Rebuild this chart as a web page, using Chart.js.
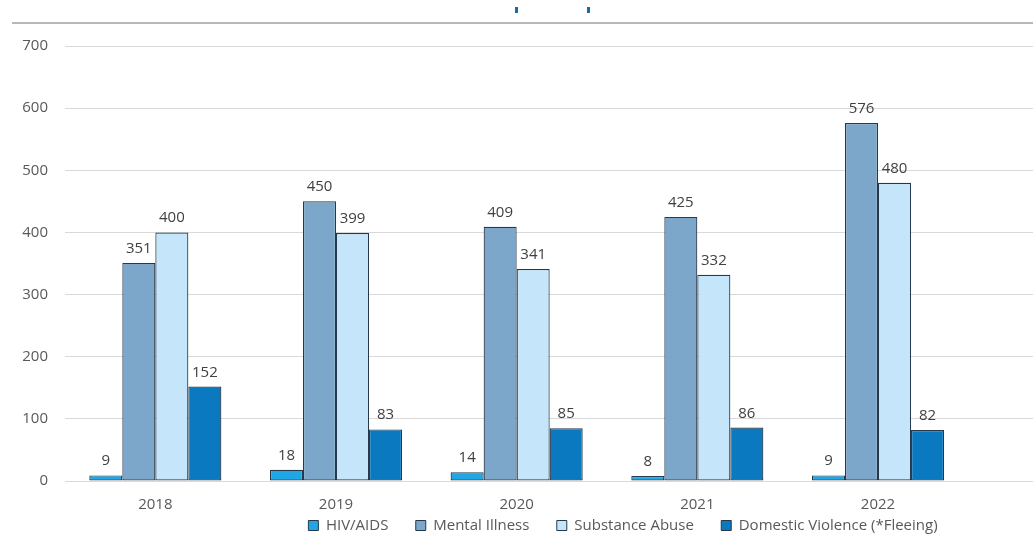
<!DOCTYPE html>
<html>
<head>
<meta charset="utf-8">
<script src="https://cdn.jsdelivr.net/npm/chart.js@4/dist/chart.umd.min.js"></script>
<style>
  html, body { margin: 0; padding: 0; background: #ffffff; overflow: hidden; }
  #wrap { position: relative; width: 1246px; height: 549px; }
</style>
</head>
<body>
<div id="wrap"><canvas id="c"></canvas></div>
<script>
const years = ["2018", "2019", "2020", "2021", "2022"];
const hivAids = [9, 18, 14, 8, 9];
const mentalIllness = [351, 450, 409, 425, 576];
const substanceAbuse = [400, 399, 341, 332, 480];
const domesticViolence = [152, 83, 85, 86, 82];
const yTicks = [0, 100, 200, 300, 400, 500, 600, 700];

const FONT = "'Open Sans', sans-serif";
const labels = years.concat([""]);

const valueLabels = {
  id: 'valueLabels',
  afterDatasetsDraw(chart) {
    const ctx = chart.ctx;
    ctx.save();
    ctx.font = "15px " + FONT;
    ctx.fillStyle = "#404040";
    ctx.textAlign = "center";
    ctx.textBaseline = "alphabetic";
    chart.data.datasets.forEach((ds, i) => {
      const meta = chart.getDatasetMeta(i);
      meta.data.forEach((el, j) => {
        const v = ds.data[j];
        if (v === null || v === undefined) return;
        ctx.fillText(String(v), el.x, el.y - 10);
      });
    });
    ctx.restore();
  }
};

const decor = {
  id: 'decor',
  beforeDraw(chart) {
    const ctx = chart.ctx;
    ctx.save();
    ctx.fillStyle = "#ffffff";
    ctx.fillRect(0, 0, chart.width, chart.height);
    ctx.strokeStyle = "#b8b8b8";
    ctx.lineWidth = 2;
    ctx.beginPath();
    ctx.moveTo(12, 23);
    ctx.lineTo(chart.width, 23);
    ctx.stroke();
    ctx.fillStyle = "#1a6aa5";
    ctx.fillRect(515, 7, 3, 6);
    ctx.fillRect(587, 7, 3, 6);
    ctx.restore();
  }
};

const borderCol = "#26384a";
const mk = (label, data, color) => ({
  label, data, backgroundColor: color, borderColor: borderCol, borderWidth: 1.2,
  borderSkipped: false,
  barPercentage: 1.0, categoryPercentage: 0.731
});

new Chart(document.getElementById('c'), {
  type: 'bar',
  data: {
    labels: labels,
    datasets: [
      mk("HIV/AIDS", hivAids, "#1ea7e4"),
      mk("Mental Illness", mentalIllness, "#7da7ca"),
      mk("Substance Abuse", substanceAbuse, "#c5e6fa"),
      mk("Domestic Violence (*Fleeing)", domesticViolence, "#0a79bf")
    ]
  },
  options: {
    responsive: true,
    maintainAspectRatio: false,
    animation: false,
    devicePixelRatio: 1,
    layout: { padding: { top: 46, bottom: 6, left: 0, right: 0 } },
    plugins: {
      legend: {
        position: 'bottom',
        labels: {
          boxWidth: 10, boxHeight: 10, padding: 4,
          color: "#595959",
          font: { family: FONT, size: 15 },
          generateLabels(chart) {
            const items = Chart.defaults.plugins.legend.labels.generateLabels(chart);
            items.forEach((it, i) => {
              it.strokeStyle = borderCol;
              it.lineWidth = 1;
              if (i < items.length - 1) it.text = it.text + "      ";
            });
            return items;
          }
        }
      },
      tooltip: { enabled: false }
    },
    scales: {
      x: {
        grid: { display: false, drawTicks: false },
        border: { display: false },
        ticks: { color: "#595959", font: { family: FONT, size: 15 }, padding: 15 },
        afterFit(s) { s.height = 33; }
      },
      y: {
        min: 0, max: 700,
        afterBuildTicks(s) { s.ticks = yTicks.map(v => ({ value: v })); },
        grid: { color: "#d9d9d9", lineWidth: 1, drawTicks: false },
        border: { display: false },
        ticks: { color: "#595959", font: { family: FONT, size: 15 }, padding: 17 },
        afterFit(s) { s.width = 65; }
      },
      yRight: {
        position: 'right',
        display: true,
        grid: { display: false, drawTicks: false },
        border: { display: false },
        ticks: { display: false },
        afterFit(s) { s.width = 97; }
      }
    }
  },
  plugins: [decor, valueLabels]
});
</script>
</body>
</html>
